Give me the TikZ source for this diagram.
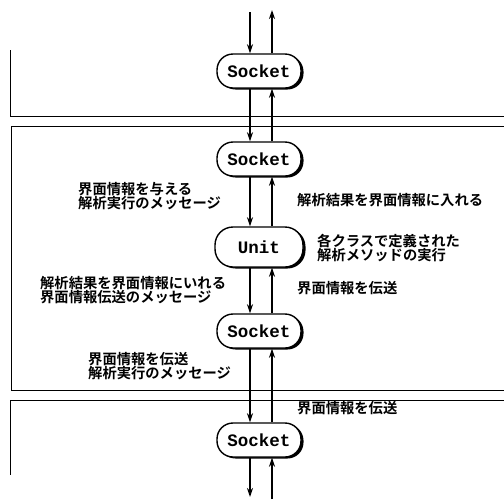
\documentclass[tikz,border=0pt]{standalone}
\usepackage{fontspec}
\setmonofont{Liberation Mono}
\newfontfamily\cjk{Noto Sans CJK JP}[BoldFont={* Bold}]
\usetikzlibrary{arrows.meta,shadows}
\begin{document}
\begin{tikzpicture}[x=1pt,y=-1pt,
  box/.style={draw,line width=1.4pt,rounded corners=16pt,fill=white,
    minimum width=84pt,minimum height=34pt,inner sep=0pt,
    font=\ttfamily\bfseries\fontsize{17.5}{17.5}\selectfont,
    drop shadow={fill=black,opacity=1,shadow xshift=2.5pt,shadow yshift=-1.5pt}},
  unitbox/.style={box,minimum width=88pt,minimum height=40pt,rounded corners=18pt},
  frame/.style={line width=1pt},
  flow/.style={line width=1.8pt,-{Stealth[length=9pt,width=6pt]}},
  lbl/.style={anchor=west,align=left,inner sep=0pt,
    font=\cjk\bfseries\fontsize{14.3}{14}\selectfont}]
\useasboundingbox (0,0) rectangle (504,499);
% frames
\draw[frame] (10,50) -- (10,116) -- (504,116);
\draw[frame] (504,126) -- (11,126) -- (11,390) -- (504,390);
\draw[frame] (504,400) -- (10,400) -- (10,475);
% nodes
\node[box] (s1) at (259,71) {Socket};
\node[box] (s2) at (259,159) {Socket};
\node[unitbox] (u) at (259,247) {Unit};
\node[box] (s3) at (259,331) {Socket};
\node[box] (s4) at (259,440) {Socket};
\coordinate (tin) at (250,12);
\coordinate (tout) at (272,10);
\coordinate (bout) at (250,497);
\coordinate (bin) at (272,499);
% connectors
\draw[flow] (tin) -- (tin |- s1.north);
\draw[flow] (tout |- s1.north) -- (tout);
\foreach \a/\b in {s1/s2,u/s3,s3/s4}{
  \draw[flow] ([xshift=-9pt]\a.south) -- ([xshift=-9pt]\b.north);
  \draw[flow] ([xshift=13pt]\b.north) -- ([xshift=13pt]\a.south);
}
\draw[flow] ([xshift=-9pt]s2.south) -- ([xshift=-9pt]u.north);
\draw[flow] ([xshift=13pt]u.north) -- ([xshift=13pt]s2.south);
\draw[flow] (bout |- s4.south) -- (bout);
\draw[flow] (bin) -- (bin |- s4.south);
% labels
\node[lbl] (l1) at (78,196) {界面情報を与える\\解析実行のメッセージ};
\node[lbl] (r1) at (297,200) {解析結果を界面情報に入れる};
\node[lbl] (r2) at (317,248) {各クラスで定義された\\解析メソッドの実行};
\node[lbl] (l2) at (40,290) {解析結果を界面情報にいれる\\界面情報伝送のメッセージ};
\node[lbl] (r3) at (297,288) {界面情報を伝送};
\node[lbl] (l3) at (88,366) {界面情報を伝送\\解析実行のメッセージ};
\node[lbl] (r4) at (297,408) {界面情報を伝送};
\end{tikzpicture}
\end{document}
